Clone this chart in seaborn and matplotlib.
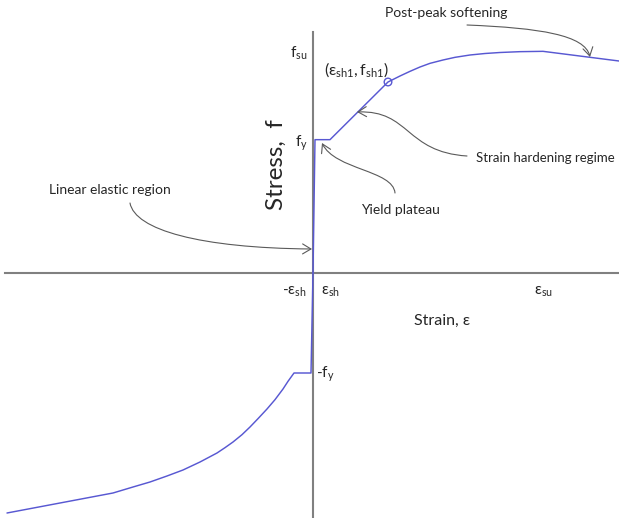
import numpy as np
import pandas as pd
import seaborn as sns
import matplotlib.pyplot as plt
from matplotlib.patches import FancyArrowPatch
from matplotlib.path import Path

# Idealised steel stress-strain curve (schematic, MPa vs strain)
tension_strain = [0.0, 0.001, 0.0085, 0.0375, 0.0435, 0.0485, 0.0535, 0.0585,
                  0.065, 0.071, 0.0785, 0.086, 0.0935, 0.1035, 0.115, 0.153]
tension_stress = [0, 400, 400, 573, 591, 605, 618, 629, 639, 647, 654, 658.5,
                  661.5, 664, 665, 636]

compression_strain = [0.0, -0.001, -0.0095, -0.0125, -0.015, -0.019, -0.023,
                      -0.0275, -0.0315, -0.0355, -0.04, -0.044, -0.048,
                      -0.0565, -0.065, -0.073, -0.0815, -0.09, -0.1, -0.153]
compression_stress = [0, -300, -300, -325, -348, -380, -408, -437, -462, -485,
                      -507, -524, -540, -567, -591, -609, -627, -642, -660, -720]

# Onset of the power-law hardening branch
sh1_strain = [0.0375]
sh1_stress = [573]

x_ticks = [-0.0095, 0.0085, 0.115]
x_tick_labels = [r"-$\mathrm{ε_{sh}}$", r"$\mathrm{ε_{sh}}$", r"$\mathrm{ε_{su}}$"]
y_ticks = [665, 400, -300]
y_tick_labels = [r"$\mathrm{f_{su}}$", r"$\mathrm{f_{y}}$", ""]
neg_fy_label = r"-$\mathrm{f_{y}}$"

sns.set_theme(style="white")
plt.rcParams["font.family"] = ["Lato", "DejaVu Sans"]
plt.rcParams["mathtext.fontset"] = "custom"
plt.rcParams["mathtext.rm"] = "Lato"
plt.rcParams["mathtext.it"] = "Lato:italic"
plt.rcParams["mathtext.fallback"] = "stixsans"

curve_color = "#5858d2"
axis_color = "#808080"
arrow_color = "#5a5a5a"
text_color = "#262626"

fig = plt.figure(figsize=(6.19, 5.18), dpi=100)
ax = fig.add_axes([5 / 619, 0, 614 / 619, 486 / 518])

tension = pd.DataFrame({"strain": tension_strain, "stress": tension_stress})
compression = pd.DataFrame({"strain": compression_strain, "stress": compression_stress})

sns.lineplot(data=tension, x="strain", y="stress", sort=False, estimator=None,
             color=curve_color, lw=1.05, ax=ax, zorder=3)
sns.lineplot(data=compression, x="strain", y="stress", sort=False, estimator=None,
             color=curve_color, lw=1.05, ax=ax, zorder=3)
sns.scatterplot(x=sh1_strain, y=sh1_stress, marker="o", s=30, facecolor="none",
                edgecolor=curve_color, linewidth=1.0, ax=ax, zorder=4)

ax.set_xlim(-0.154, 0.153)
ax.set_ylim(-735, 723)

for side in ("top", "right"):
    ax.spines[side].set_visible(False)
for side in ("left", "bottom"):
    ax.spines[side].set_position(("data", 0))
    ax.spines[side].set_color(axis_color)
    ax.spines[side].set_linewidth(1.5)

ax.set_xticks(x_ticks, x_tick_labels)
ax.set_yticks(y_ticks, y_tick_labels)
ax.tick_params(axis="both", direction="in", length=4, width=1, color=axis_color,
               labelcolor=text_color, labelsize=11)
ax.tick_params(axis="x", pad=8)
ax.tick_params(axis="y", pad=4)
ax.set_xlabel("")
ax.set_ylabel("")

ax.annotate(neg_fy_label, xy=(0, -300), xytext=(2, -1), textcoords="offset points",
            ha="left", va="center", fontsize=11, color=text_color)

ax.text(-0.0185, 324, "Stress,  f", rotation=90, ha="center", va="center",
        fontsize=17.5, color=text_color)
ax.text(0.0645, -144, "Strain, ε", ha="center", va="center", fontsize=11.5,
        color=text_color)
ax.text(0.022, 609, r"$\mathrm{(ε_{sh1},f_{sh1})}$", ha="center", va="center",
        fontsize=11.5, color=text_color)

notes = [
    ("Post-peak softening", (0.0665, 780), "center", 10,
     [(0.077, 744), (0.1135, 735), (0.136, 714), (0.1385, 648)]),
    ("Strain hardening regime", (0.0815, 345), "left", 9.5,
     [(0.077, 351), (0.046, 363), (0.0485, 489), (0.022, 483)]),
    ("Yield plateau", (0.0435, 189), "center", 10,
     [(0.041, 240), (0.040, 309), (0.011, 309), (0.0045, 390)]),
    ("Linear elastic region", (-0.1015, 249), "center", 10,
     [(-0.0915, 210), (-0.089, 129), (-0.0565, 75), (-0.0005, 72)]),
]
for label, pos, ha, size, pts in notes:
    ax.text(pos[0], pos[1], label, ha=ha, va="center", fontsize=size,
            color=text_color, clip_on=False)
    path = Path(pts, [Path.MOVETO, Path.CURVE4, Path.CURVE4, Path.CURVE4])
    arrow = FancyArrowPatch(path=path, arrowstyle="->,head_length=0.5,head_width=0.3",
                            mutation_scale=12, color=arrow_color, lw=0.8,
                            clip_on=False, zorder=5)
    ax.add_patch(arrow)

fig.savefig("out.png", dpi=100)
